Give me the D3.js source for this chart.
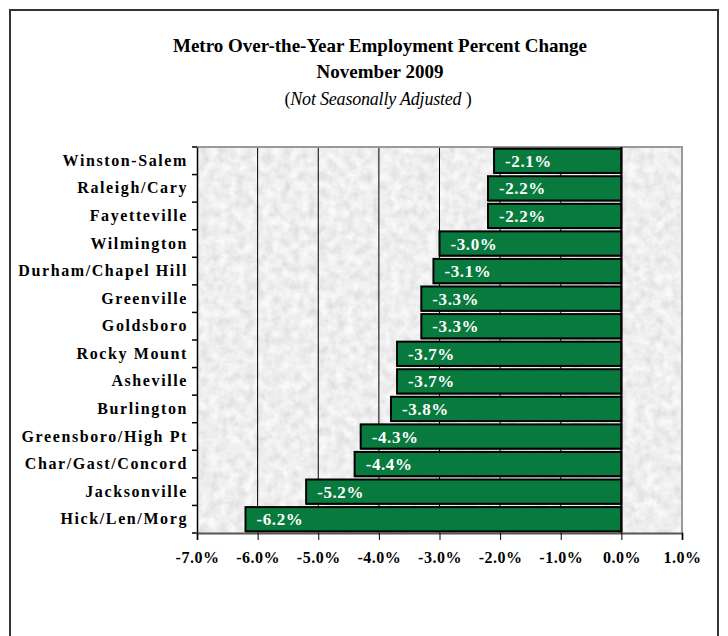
<!DOCTYPE html>
<html>
<head>
<meta charset="utf-8">
<script src="https://cdn.jsdelivr.net/npm/d3@7"></script>
<style>
  html, body { margin: 0; padding: 0; background: #fff; }
  svg { display: block; }
  text { font-family: "Liberation Serif", "Times New Roman", serif; }
</style>
</head>
<body>
<svg id="chart" width="728" height="636"></svg>
<script>
// metro areas, top to bottom
const metros = ["Winston-Salem", "Raleigh/Cary", "Fayetteville", "Wilmington", "Durham/Chapel Hill",
  "Greenville", "Goldsboro", "Rocky Mount", "Asheville", "Burlington", "Greensboro/High Pt",
  "Char/Gast/Concord", "Jacksonville", "Hick/Len/Morg"];
// over-the-year percent change
const pctChange = [-2.1, -2.2, -2.2, -3.0, -3.1, -3.3, -3.3, -3.7, -3.7, -3.8, -4.3, -4.4, -5.2, -6.2];
const xTicks = [-7, -6, -5, -4, -3, -2, -1, 0, 1];
const titleLines = ["Metro Over-the-Year Employment Percent Change", "November 2009"];

const fmt = d => d3.formatLocale({ decimal: ".", thousands: ",", grouping: [3], currency: ["$", ""], minus: "-" })
  .format(".1f")(d) + "%";

const svg = d3.select("#chart");
const m = { left: 197, right: 682, top: 147, bottom: 533 };
const SERIF = '"Liberation Serif", "Times New Roman", serif';

// outer frame
svg.append("rect").attr("x", 10).attr("y", 10).attr("width", 708).attr("height", 660)
  .attr("fill", "none").attr("stroke", "#333").attr("stroke-width", 2);

// titles
svg.append("text").attr("x", 380).attr("y", 52).attr("text-anchor", "middle")
  .attr("font-size", 19).attr("font-weight", "bold").text(titleLines[0]);
svg.append("text").attr("x", 380).attr("y", 78).attr("text-anchor", "middle")
  .attr("font-size", 19).attr("font-weight", "bold").text(titleLines[1]);
const sub = svg.append("text").attr("x", 378).attr("y", 105).attr("text-anchor", "middle")
  .attr("font-size", 18).attr("letter-spacing", -0.2);
sub.append("tspan").text("(");
sub.append("tspan").attr("font-style", "italic").text("Not Seasonally Adjusted");
sub.append("tspan").text(" )");

const x = d3.scaleLinear().domain([-7, 1]).range([m.left, m.right]);
const y = d3.scaleBand().domain(metros).range([m.top, m.bottom]).paddingInner(0.12).paddingOuter(0.06);

// granite-ish background
const defs = svg.append("defs");
const f = defs.append("filter").attr("id", "granite").attr("x", 0).attr("y", 0).attr("width", 1).attr("height", 1);
f.append("feTurbulence").attr("type", "fractalNoise").attr("baseFrequency", 0.11).attr("numOctaves", 3).attr("seed", 4);
f.append("feColorMatrix").attr("type", "matrix")
  .attr("values", "0 0 0 0 0  0 0 0 0 0  0 0 0 0 0  0 0 0 -0.55 0.42");
f.append("feComposite").attr("in2", "SourceGraphic").attr("operator", "atop");

svg.append("rect").attr("x", m.left).attr("y", m.top)
  .attr("width", m.right - m.left).attr("height", m.bottom - m.top)
  .attr("fill", "#f6f6f6").attr("filter", "url(#granite)");
svg.append("rect").attr("x", m.left).attr("y", m.top)
  .attr("width", m.right - m.left).attr("height", m.bottom - m.top)
  .attr("fill", "#ffffff").attr("opacity", 0.35);

// gridlines
svg.append("g").selectAll("line").data(xTicks.filter(d => d > -7 && d < 1)).enter().append("line")
  .attr("x1", d => x(d)).attr("x2", d => x(d)).attr("y1", m.top).attr("y2", m.bottom)
  .attr("stroke", "#000").attr("stroke-width", 1);

// plot frame (top/right grey)
svg.append("path").attr("d", `M${m.left},${m.top}H${m.right}V${m.bottom}`)
  .attr("fill", "none").attr("stroke", "#999").attr("stroke-width", 2);

// bars
const rows = metros.map((name, i) => ({ name, v: pctChange[i] }));
const bars = svg.append("g").selectAll("g").data(rows).enter().append("g");
bars.append("rect")
  .attr("x", d => x(d.v)).attr("y", d => y(d.name) + 1)
  .attr("width", d => x(0) - x(d.v)).attr("height", y.bandwidth())
  .attr("fill", "#333");
bars.append("rect")
  .attr("x", d => x(d.v)).attr("y", d => y(d.name))
  .attr("width", d => x(0) - x(d.v)).attr("height", y.bandwidth())
  .attr("fill", "#087a3e").attr("stroke", "#000").attr("stroke-width", 2);
bars.append("text")
  .attr("x", d => x(d.v) + 11).attr("y", d => y(d.name) + y.bandwidth() / 2 + 6)
  .attr("fill", "#fff").attr("font-size", 17).attr("font-weight", "bold").attr("letter-spacing", 0.6)
  .text(d => fmt(d.v));

// zero line
svg.append("line").attr("x1", x(0)).attr("x2", x(0)).attr("y1", m.top).attr("y2", m.bottom)
  .attr("stroke", "#000").attr("stroke-width", 2);

// y axis
const yAxis = svg.append("g").attr("transform", `translate(${m.left},0)`)
  .call(d3.axisLeft(y).tickSize(0).tickPadding(9));
yAxis.attr("font-family", null);
yAxis.select(".domain").attr("stroke", "#000").attr("stroke-width", 1.5);
yAxis.selectAll("text").style("font-family", SERIF).attr("font-size", 16)
  .attr("font-weight", "bold").attr("letter-spacing", 1.6).attr("fill", "#000");
// y ticks at band boundaries
svg.append("g").selectAll("line").data(d3.range(metros.length + 1)).enter().append("line")
  .attr("x1", m.left - 5).attr("x2", m.left)
  .attr("y1", i => m.top + i * (m.bottom - m.top) / metros.length)
  .attr("y2", i => m.top + i * (m.bottom - m.top) / metros.length)
  .attr("stroke", "#000").attr("stroke-width", 1.5);

// x axis
const xAxis = svg.append("g").attr("transform", `translate(0,${m.bottom})`)
  .call(d3.axisBottom(x).tickValues(xTicks).tickSize(7).tickPadding(12).tickFormat(fmt));
xAxis.attr("font-family", null);
xAxis.select(".domain").attr("stroke", "#555").attr("stroke-width", 2);
xAxis.selectAll(".tick line").attr("stroke", "#000");
xAxis.selectAll("text").style("font-family", SERIF).attr("font-size", 16)
  .attr("font-weight", "bold").attr("letter-spacing", 0.5).attr("fill", "#000");
</script>
</body>
</html>
